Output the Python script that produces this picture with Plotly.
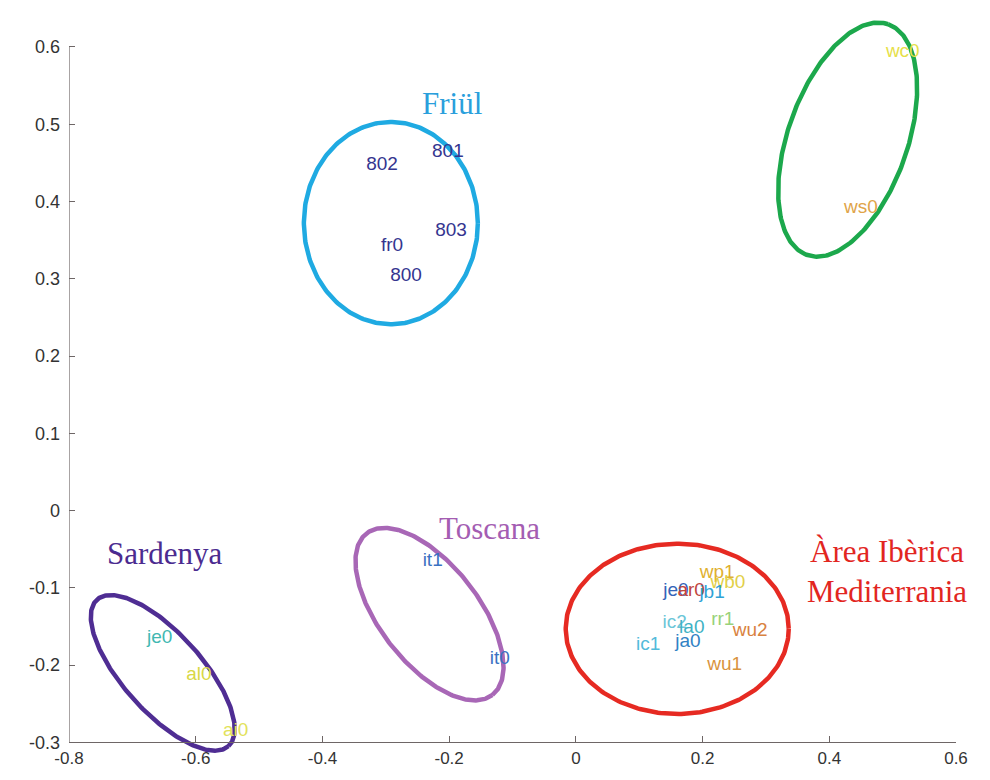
import numpy as np
import plotly.graph_objects as go

# ---------------- data ----------------
# point labels (dialect codes), positions and colours
friul_labels = ["802", "801", "803", "fr0", "800"]
friul_x = [-0.306, -0.202, -0.197, -0.290, -0.268]
friul_y = [0.447, 0.464, 0.361, 0.342, 0.303]
friul_colors = ["#34358f"] * 5

green_labels = ["wc0", "ws0"]
green_x = [0.516, 0.450]
green_y = [0.593, 0.391]
green_colors = ["#e6e048", "#e0a448"]

sard_labels = ["je0", "al0", "ai0"]
sard_x = [-0.657, -0.595, -0.537]
sard_y = [-0.165, -0.213, -0.285]
sard_colors = ["#3fb8b2", "#d9d846", "#e2e25a"]

tosc_labels = ["it1", "it0"]
tosc_x = [-0.226, -0.120]
tosc_y = [-0.066, -0.193]
tosc_colors = ["#3a72c2", "#3a72c2"]

iber_labels = ["je0", "ar0", "wp1", "wb0", "jb1", "ic2", "la0", "rr1", "wu2", "ic1", "ja0", "wu1"]
iber_x = [0.158, 0.182, 0.223, 0.240, 0.215, 0.156, 0.183, 0.232, 0.275, 0.114, 0.177, 0.235]
iber_y = [-0.104, -0.104, -0.081, -0.094, -0.107, -0.146, -0.152, -0.142, -0.156, -0.174, -0.171, -0.200]
iber_colors = ["#3464b8", "#c0443c", "#e0b030", "#e2d048", "#2fa2d6", "#6cc6d8", "#3fb2c4",
               "#98d27a", "#d98240", "#52bada", "#3182c4", "#d9943e"]

# group names
group_names = ["Friül", "Toscana", "Sardenya", "Àrea Ibèrica<br>Mediterrania"]
group_x = [-0.196, -0.136, -0.649, 0.491]
group_y = [0.527, -0.023, -0.055, -0.079]
group_colors = ["#2a9fdc", "#a45db2", "#4b2b90", "#e2261f"]

# ellipses: centre and two conjugate semi-axis vectors (data units)
ell_cx = [-0.292, 0.160, 0.429, -0.652, -0.231]
ell_cy = [0.372, -0.153, 0.480, -0.210, -0.134]
ell_u = [(0.1373, 0.0), (0.176, 0.0), (0.0640, 0.1493), (0.1037, -0.0948), (0.0992, -0.1046)]
ell_v = [(0.0, 0.1309), (0.0, 0.1102), (0.0891, -0.0255), (-0.0464, -0.0339), (-0.0618, -0.0390)]
ell_colors = ["#1faae2", "#e62a22", "#1ca84c", "#4f2d93", "#a867b6"]

# axes
x_ticks = [-0.8, -0.6, -0.4, -0.2, 0, 0.2, 0.4, 0.6]
x_ticktext = ["-0.8", "-0.6", "-0.4", "-0.2", "0", "0.2", "0.4", "0.6"]
y_ticks = [-0.3, -0.2, -0.1, 0, 0.1, 0.2, 0.3, 0.4, 0.5, 0.6]
y_ticktext = ["-0.3", "-0.2", "-0.1", "0", "0.1", "0.2", "0.3", "0.4", "0.5", "0.6"]
x_range = [-0.8, 0.6]
y_range = [-0.315, 0.64]
y_axis_span = [-0.3, 0.6]

# ---------------- figure ----------------
fig = go.Figure()

t = np.linspace(0, 2 * np.pi, 300)
for cx, cy, u, v, col in zip(ell_cx, ell_cy, ell_u, ell_v, ell_colors):
    ex = cx + u[0] * np.cos(t) + v[0] * np.sin(t)
    ey = cy + u[1] * np.cos(t) + v[1] * np.sin(t)
    fig.add_trace(go.Scatter(x=ex, y=ey, mode="lines",
                             line=dict(color=col, width=4.5),
                             hoverinfo="skip", showlegend=False))

for labs, xs, ys, cols in [(friul_labels, friul_x, friul_y, friul_colors),
                           (green_labels, green_x, green_y, green_colors),
                           (sard_labels, sard_x, sard_y, sard_colors),
                           (tosc_labels, tosc_x, tosc_y, tosc_colors),
                           (iber_labels, iber_x, iber_y, iber_colors)]:
    fig.add_trace(go.Scatter(x=xs, y=ys, mode="text", text=labs,
                             textposition="middle center",
                             textfont=dict(family="Liberation Sans, Arial", size=19, color=cols),
                             cliponaxis=False, showlegend=False))

for name, gx, gy, gc in zip(group_names, group_x, group_y, group_colors):
    fig.add_annotation(x=gx, y=gy, xref="x", yref="y", text=name, showarrow=False,
                       font=dict(family="Liberation Serif, Times New Roman", size=31, color=gc),
                       align="center")

axis_col = "#6e6666"
# y axis line only between -0.3 and 0.6
fig.add_shape(type="line", xref="x", yref="y", x0=x_range[0], x1=x_range[0],
              y0=y_axis_span[0], y1=y_axis_span[1], line=dict(color=axis_col, width=1.2))

xpos = (y_axis_span[0] - y_range[0]) / (y_range[1] - y_range[0])

fig.update_layout(
    width=990, height=780, autosize=False,
    margin=dict(l=69, r=34, t=16, b=23),
    paper_bgcolor="white", plot_bgcolor="white",
    showlegend=False,
    xaxis=dict(range=x_range, tickvals=x_ticks, ticktext=x_ticktext,
               anchor="free", position=xpos,
               showline=True, linecolor=axis_col, linewidth=1.2,
               ticks="inside", ticklen=6, tickcolor=axis_col,
               showgrid=False, zeroline=False,
               tickfont=dict(family="Liberation Sans Narrow, Liberation Sans, Arial", size=17, color="#333333")),
    yaxis=dict(range=y_range, tickvals=y_ticks, ticktext=y_ticktext,
               showline=False, ticks="inside", ticklen=6, tickcolor=axis_col,
               showgrid=False, zeroline=False, ticklabelstandoff=8,
               tickfont=dict(family="Liberation Sans, Arial", size=18, color="#333333")),
)

fig.write_html("out.html")
